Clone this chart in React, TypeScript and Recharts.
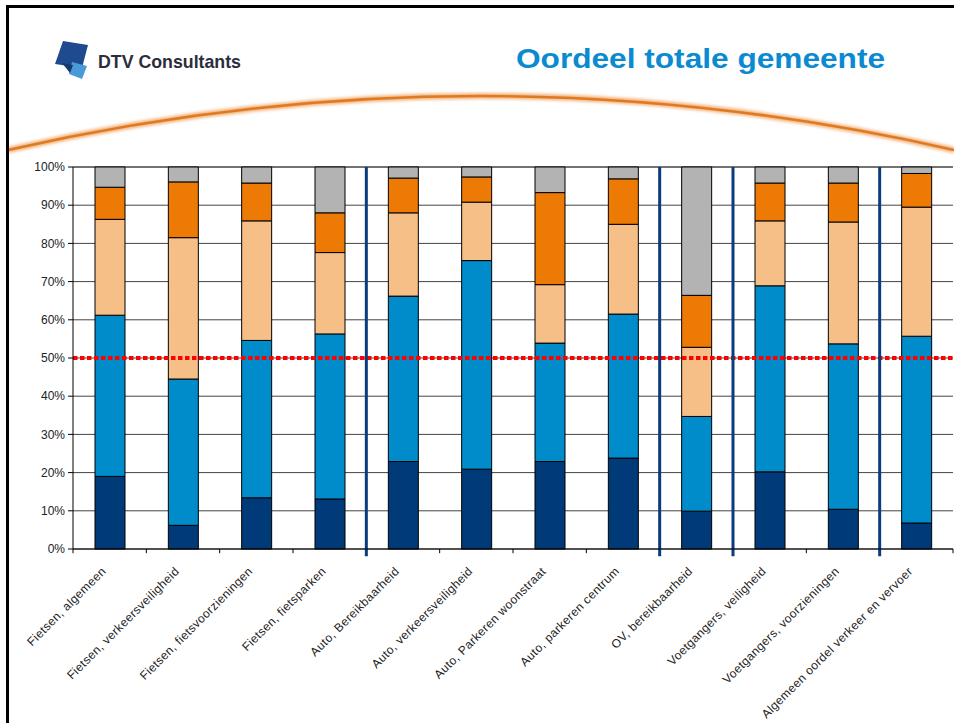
import React from "react"
import { Bar, BarChart, CartesianGrid, ReferenceLine, XAxis, YAxis } from "recharts"

const categories = [
  "Fietsen, algemeen",
  "Fietsen, verkeersveiligheid",
  "Fietsen, fietsvoorzieningen",
  "Fietsen, fietsparken",
  "Auto, Bereikbaarheid",
  "Auto, verkeersveiligheid",
  "Auto, Parkeren woonstraat",
  "Auto, parkeren centrum",
  "OV, bereikbaarheid",
  "Voetgangers, veiligheid",
  "Voetgangers, voorzieningen",
  "Algemeen oordel verkeer en vervoer",
]

// share per answer, percent (bottom to top)
const zeerGoed = [19.0, 6.2, 13.4, 13.1, 22.9, 20.9, 22.9, 23.8, 9.9, 20.2, 10.4, 6.8]
const goed = [42.2, 38.3, 41.2, 43.2, 43.3, 54.6, 31.0, 37.7, 24.8, 48.7, 43.3, 48.9]
const neutraal = [25.1, 37.0, 31.3, 21.3, 21.8, 15.3, 15.3, 23.5, 18.1, 17.0, 31.9, 33.8]
const slecht = [8.4, 14.6, 9.9, 10.4, 9.1, 6.6, 24.1, 11.9, 13.6, 9.9, 10.2, 8.8]
const geenMening = [5.3, 3.9, 4.2, 12.0, 2.9, 2.6, 6.7, 3.1, 33.6, 4.2, 4.2, 1.7]

const yTicks = [0, 10, 20, 30, 40, 50, 60, 70, 80, 90, 100]
// separator drawn in front of these categories
const groupStarts = ["Auto, Bereikbaarheid", "OV, bereikbaarheid", "Voetgangers, veiligheid", "Algemeen oordel verkeer en vervoer"]
const threshold = 50

const data = categories.map((name, i) => ({
  name,
  zeerGoed: zeerGoed[i],
  goed: goed[i],
  neutraal: neutraal[i],
  slecht: slecht[i],
  geenMening: geenMening[i],
}))

const font = "'Liberation Sans', Arial, sans-serif"

function XTick(props: any) {
  const { x, y, payload } = props
  const ax = x - 3
  const ay = y + 15
  return (
    <text
      x={ax}
      y={ay}
      transform={`rotate(-45, ${ax}, ${ay})`}
      textAnchor="end"
      fontSize={12}
      letterSpacing={0.4}
      fill="#222"
      fontFamily={font}
    >
      {payload.value}
    </text>
  )
}

function Header() {
  return (
    <svg width={954} height={160} style={{ position: "absolute", left: 0, top: 0 }}>
      <defs>
        <filter id="soft" x="-5%" y="-50%" width="110%" height="200%">
          <feGaussianBlur stdDeviation="1.6" />
        </filter>
      </defs>
      <polygon points="63,41 88,45 82,68 55,64" fill="#1f4b8e" />
      <polygon points="72,62 87,66 82,79 69,74" fill="#4a9ad6" />
      <polygon points="62,63 73,65 70,73" fill="#16396f" />
      <text
        x={98}
        y={68}
        fontFamily="'Liberation Sans Narrow', 'Liberation Sans', Arial, sans-serif"
        fontWeight="bold"
        fontSize={19}
        fill="#2b2d3c"
        textLength={143}
        lengthAdjust="spacingAndGlyphs"
      >
        DTV Consultants
      </text>
      <text
        x={516}
        y={68}
        fontFamily={font}
        fontWeight="bold"
        fontSize={27}
        fill="#0a8ad0"
        textLength={369}
        lengthAdjust="spacingAndGlyphs"
      >
        Oordeel totale gemeente
      </text>
      <path d="M 8 150 Q 480 42 954 150" fill="none" stroke="#f3b27a" strokeWidth={6} filter="url(#soft)" />
      <path d="M 8 150 Q 480 42 954 150" fill="none" stroke="#e07a22" strokeWidth={2.5} />
    </svg>
  )
}

export default function App() {
  return (
    <div style={{ position: "absolute", left: 0, top: 0, width: 954, height: 723, background: "#fff", overflow: "hidden" }}>
      <Header />
      <div style={{ position: "absolute", left: 6, top: 5, width: 960, height: 730, borderLeft: "3px solid #000", borderTop: "3px solid #000" }} />
      <div style={{ position: "absolute", left: 0, top: 150 }}>
        <BarChart
          width={954}
          height={573}
          data={data}
          margin={{ top: 17, right: 1, bottom: 0, left: 13 }}
          style={{ fontFamily: font }}
        >
          <CartesianGrid vertical={false} stroke="#444" strokeWidth={1} />
          <XAxis
            dataKey="name"
            interval={0}
            tickLine={false}
            axisLine={{ stroke: "#000" }}
            height={174}
            tick={<XTick />}
          />
          <YAxis
            domain={[0, 100]}
            ticks={yTicks}
            width={60}
            tickSize={5}
            tickMargin={3}
            tickLine={{ stroke: "#000" }}
            axisLine={{ stroke: "#000" }}
            tick={{ fill: "#222", fontSize: 12, fontFamily: font }}
            tickFormatter={(v) => `${v}%`}
          />
          <Bar dataKey="zeerGoed" stackId="a" fill="#003a78" stroke="#000" strokeWidth={1} barSize={30} isAnimationActive={false} />
          <Bar dataKey="goed" stackId="a" fill="#008cca" stroke="#000" strokeWidth={1} barSize={30} isAnimationActive={false} />
          <Bar dataKey="neutraal" stackId="a" fill="#f6bf88" stroke="#000" strokeWidth={1} barSize={30} isAnimationActive={false} />
          <Bar dataKey="slecht" stackId="a" fill="#ec7a05" stroke="#000" strokeWidth={1} barSize={30} isAnimationActive={false} />
          <Bar dataKey="geenMening" stackId="a" fill="#b3b3b3" stroke="#000" strokeWidth={1} barSize={30} isAnimationActive={false} />
          {categories.map((c) => (
            <ReferenceLine
              key={`t${c}`}
              segment={[{ x: c, y: 0 }, { x: c, y: -1.1 }]}
              position="start"
              ifOverflow="visible"
              stroke="#000"
              strokeWidth={1}
            />
          ))}
          <ReferenceLine
            segment={[{ x: categories[categories.length - 1], y: 0 }, { x: categories[categories.length - 1], y: -1.1 }]}
            position="end"
            ifOverflow="visible"
            stroke="#000"
            strokeWidth={1}
          />
          <ReferenceLine
            y={threshold}
            stroke="#ff0000"
            strokeWidth={4}
            strokeDasharray="4.5 2.5"
          />
          {groupStarts.map((c) => (
            <ReferenceLine
              key={`s${c}`}
              segment={[{ x: c, y: 100 }, { x: c, y: -1.9 }]}
              position="start"
              ifOverflow="visible"
              stroke="#0b3d7c"
              strokeWidth={3}
            />
          ))}
        </BarChart>
      </div>
    </div>
  )
}
